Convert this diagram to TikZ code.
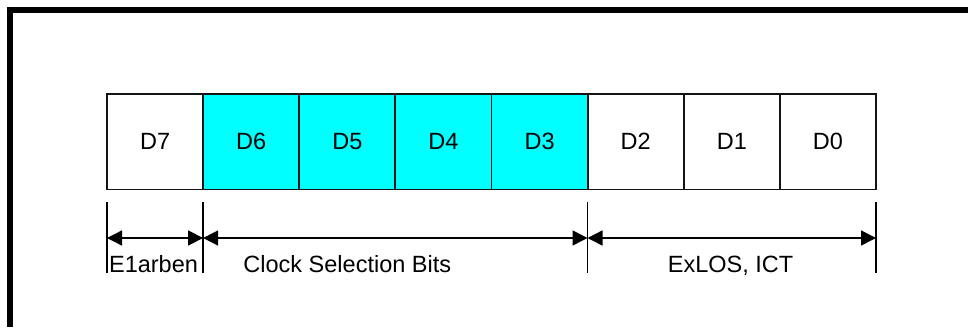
\documentclass[tikz,border=0pt]{standalone}
\usepackage{fontspec}
\setmainfont{Liberation Sans}
\usetikzlibrary{arrows.meta}
\definecolor{regcyan}{RGB}{0,255,255}
\definecolor{lineblack}{RGB}{20,20,20}
\begin{document}
\begin{tikzpicture}[x=1pt,y=-1pt,
  cell/.style={draw=lineblack,line width=1.9pt,minimum width=96.125pt,minimum height=95.5pt,inner sep=0pt,font=\fontsize{23.5}{28}\selectfont},
  hot/.style={cell,fill=regcyan},
  tick/.style={line width=1.5pt},
  dim/.style={line width=1.4pt,{Triangle[length=15pt,width=15pt]}-{Triangle[length=15pt,width=15pt]}},
  lbl/.style={font=\fontsize{23.5}{28}\selectfont,inner sep=0pt,anchor=base}]
\useasboundingbox (0,0) rectangle (968,327);
% frame (top and left only)
\fill[black] (7,6.7) rectangle (968,12.7);
\fill[black] (7,6.7) rectangle (13,327);
% register cells
\node[cell] (d7) at (155.06,141.7) {D7};
\node[hot]  (d6) at (251.19,141.7) {D6};
\node[hot]  (d5) at (347.31,141.7) {D5};
\node[hot]  (d4) at (443.44,141.7) {D4};
\node[hot]  (d3) at (539.56,141.7) {D3};
\node[cell] (d2) at (635.69,141.7) {D2};
\node[cell] (d1) at (731.81,141.7) {D1};
\node[cell] (d0) at (827.94,141.7) {D0};
% tick marks
\coordinate (t0a) at (107,202); \coordinate (t0b) at (107,273);
\coordinate (t1a) at (203.1,202); \coordinate (t1b) at (203.1,273);
\coordinate (t2a) at (587.5,202); \coordinate (t2b) at (587.5,273);
\coordinate (t3a) at (876,202); \coordinate (t3b) at (876,273);
\draw[tick] (t0a) -- (t0b);
\draw[tick] (t1a) -- (t1b);
\draw[tick] (t2a) -- (t2b);
\draw[tick] (t3a) -- (t3b);
% dimension arrows
\coordinate (a0) at (107,238);
\coordinate (a1) at (203.1,238);
\coordinate (a2) at (587.5,238);
\coordinate (a3) at (876,238);
\draw[dim] (a0) -- (a1);
\draw[dim] (a1) -- (a2);
\draw[dim] (a2) -- (a3);
% labels
\node[lbl] (l0) at (153.5,272) {E1arben};
\node[lbl] (l1) at (347.3,272) {Clock Selection Bits};
\node[lbl] (l2) at (730.5,272) {ExLOS, ICT};
\end{tikzpicture}
\end{document}
